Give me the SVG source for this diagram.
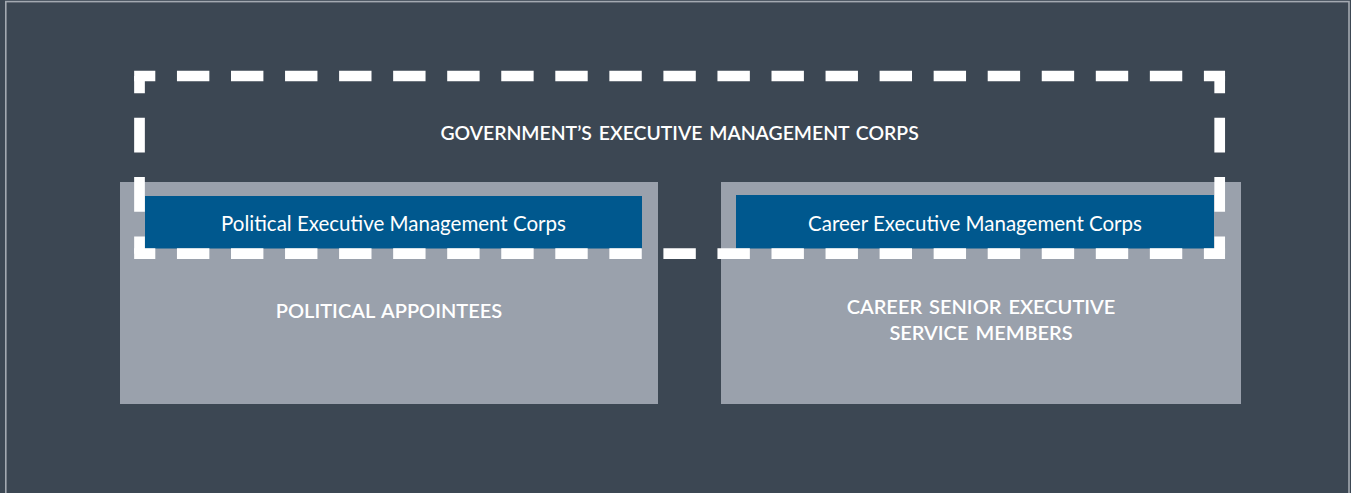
<svg xmlns="http://www.w3.org/2000/svg" width="1351" height="493" viewBox="0 0 1351 493">
<style>
.bg{fill:#3c4753}
.frame{fill:none;stroke:#a3a9b1;stroke-width:1.6}
.gray{fill:#9aa1ac}
.blue{fill:#00588e}
.dash{stroke:#ffffff;stroke-width:10.7;fill:none;stroke-linecap:butt}
.h{stroke-dasharray:32.4 21.65;stroke-dashoffset:11.25}
.v{stroke-dasharray:17.2 24.6 34.7 24.6 34.7 24.6 17.3 100}
.cap{font-family:"Lato","Liberation Sans",sans-serif;font-weight:600;fill:#ffffff;text-anchor:middle;word-spacing:2px}
.lab{font-family:"Lato","Liberation Sans",sans-serif;font-weight:400;fill:#ffffff;text-anchor:middle}
</style>
<rect class="bg" x="0" y="0" width="1351" height="493"/>
<rect class="frame" x="5.8" y="1.6" width="1343.2" height="520"/>
<g id="political">
<rect class="gray" x="120" y="182" width="538" height="222"/>
<rect class="blue" x="145" y="196" width="497" height="52.5"/>
<text class="lab" x="393.5" y="230.7" font-size="20.5">Political Executive Management Corps</text>
<text class="cap" x="389" y="317.7" font-size="20">POLITICAL APPOINTEES</text>
</g>
<g id="career">
<rect class="gray" x="721" y="182" width="520" height="222"/>
<rect class="blue" x="736" y="195" width="478" height="53.5"/>
<text class="lab" x="975" y="230.7" font-size="20.5">Career Executive Management Corps</text>
<text class="cap" x="981" y="314" font-size="20">CAREER SENIOR EXECUTIVE</text>
<text class="cap" x="981" y="340" font-size="20">SERVICE MEMBERS</text>
</g>
<g id="executive-corps">
<line class="dash h" x1="134.15" y1="76" x2="1225.05" y2="76"/>
<line class="dash h" x1="134.15" y1="253.7" x2="1225.05" y2="253.7"/>
<line class="dash v" x1="139.5" y1="76" x2="139.5" y2="253.7"/>
<line class="dash v" x1="1219.7" y1="76" x2="1219.7" y2="253.7"/>
<text class="cap" x="679.6" y="140" font-size="19.4">GOVERNMENT’S EXECUTIVE MANAGEMENT CORPS</text>
</g>
<g id="connectors"/>
</svg>
